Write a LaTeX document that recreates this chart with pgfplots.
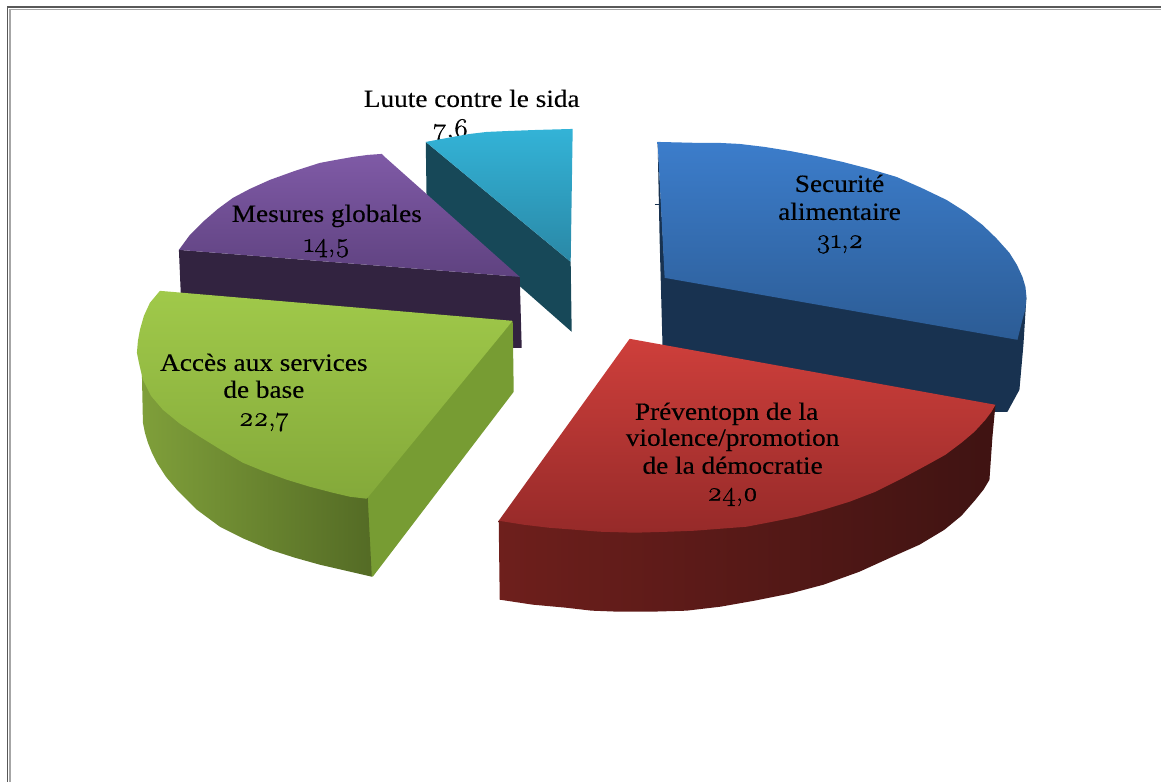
\documentclass[border=0pt]{standalone}
\usepackage{fontspec}
\usepackage{pgfplots}
\pgfplotsset{compat=1.18}
\setmainfont{Liberation Serif}[FakeStretch=1.1,FakeBold=0.25]
\newfontfamily\numf{Latin Modern Roman}[Numbers=OldStyle,FakeStretch=1.05,FakeBold=1.0]
\definecolor{tealT}{HTML}{33B3D7}\definecolor{tealB}{HTML}{2A88A6}\definecolor{tealS}{HTML}{174858}
\definecolor{purT}{HTML}{7F5AA6}\definecolor{purB}{HTML}{5F4280}\definecolor{purS}{HTML}{322340}
\definecolor{bluT}{HTML}{3C7DCB}\definecolor{bluB}{HTML}{2C5C95}\definecolor{bluS}{HTML}{183250}
\definecolor{redT}{HTML}{CE3F3B}\definecolor{redB}{HTML}{962A29}\definecolor{redL}{HTML}{6E1F1C}\definecolor{redR}{HTML}{3F1312}
\definecolor{grnT}{HTML}{A0C94A}\definecolor{grnB}{HTML}{84A93A}\definecolor{grnL}{HTML}{7F9F3A}\definecolor{grnR}{HTML}{546B25}\definecolor{grnW}{HTML}{779C33}
\newcommand{\lab}[3]{\node[anchor=base,inner sep=0pt,font=\fontsize{24.8}{24.8}\selectfont] at (axis cs:#1,#2) {#3};}
\newcommand{\nlab}[3]{\node[anchor=base,inner sep=0pt,font=\fontsize{27}{27}\numf] at (axis cs:#1,#2) {#3};}
\begin{document}
\begin{tikzpicture}
\begin{axis}[width=1162pt,height=782pt,scale only axis,hide axis,xmin=0,xmax=1162,ymin=0,ymax=782,y dir=reverse,clip=false,sharp plot]
\path (axis cs:0,0) rectangle (axis cs:1162,782);
% frame
\addplot[draw=black!65,line width=1.3pt] coordinates {(7.5,782)(7.5,7)(1162,7)};
\addplot[draw=black!35,line width=1.2pt] coordinates {(10,782)(10,9.5)(1162,9.5)};
% labels behind the slices
\lab{472}{107}{Luute contre le sida}
\nlab{451}{137}{7,6}
% teal
\addplot[draw=none,fill=tealS] coordinates {(426,142)(571,262)(572,332)(522,288)(427,212)} --cycle;
\addplot[draw=none,top color=tealT,bottom color=tealB] coordinates {(426,142)(453,137)(470,134)(487,132)(510,131)(537,130)(555,129.5)(573,129)(571,262)} --cycle;
% purple
\addplot[draw=none,fill=purS] coordinates {(179,250)(520,277)(522,348)(514,348)(182,320)} --cycle;
\addplot[draw=none,top color=purT,bottom color=purB] coordinates {(179,250)(190,235)(203,222)(218,209)(233,198)(250,189)(270,180)(295,171)(320,163)(336,160)(353,157)(368,155)(382,154)(385,157)(520,277)} --cycle;
% blue
\addplot[draw=none,fill=bluS] coordinates {(658,142)(665,270)(1018,332)(1027,297)(1024,345)(1020,390)(1008,412)(990,412)(663,350)(660,240)} --cycle;
\addplot[draw=bluS,line width=1pt] coordinates {(655,205)(659,205)};
\addplot[draw=none,top color=bluT,bottom color=bluB] coordinates {(658,142)(700,143)(720,143)(740,144)(765,147)(790,151)(816,156)(843,162)(870,169)(897,177)(922,188)(947,200)(966,212)(983,225)(997,238.5)(1010,253)(1017.5,265)(1023,277)(1026,287)(1027,297)(1026,309)(1023,320)(1018,340)(665,278)} --cycle;
% green
\addplot[draw=none,fill=grnW] coordinates {(513,321)(514,392)(373,577)(360,570)(360,499)} --cycle;
\addplot[draw=none,left color=grnL,right color=grnR] coordinates {(142,375)(143,423)(145,433)(148,443)(152,453)(157,463)(166,477)(177,490)(197,510)(220,527)(244,539)(270,550)(295,558)(320,565)(346,571)(372,577)(367,480)(243,445)(163,390)} --cycle;
\addplot[draw=none,top color=grnT,bottom color=grnB] coordinates {(160,291)(513,321)(367,499)(350,497)(333,493)(310,487)(287,480)(265,472)(243,463)(221,450)(200,437)(180,424)(163,410)(151,396)(143,380)(139,363)(137,353)(138,341)(140,330)(144,316)(150,303)(155,297)} --cycle;
% red
\addplot[draw=none,left color=redL,right color=redR] coordinates {(499,521)(500,600)(533,605)(566,608)(592,611)(618,612)(652,612)(687,611)(721,607)(755,601)(790,594)(824,585)(860,572)(893,557)(920,545)(945,530)(962,516)(976,500)(984,490)(990,480)(993,437)(996,405)(962,430)(876,480)(773,512)(669,522)(549,518)} --cycle;
\addplot[draw=none,top color=redT,bottom color=redB] coordinates {(630,339)(996,405)(992,412)(986,420)(975,432)(962,443)(946,455)(928,465)(902,479)(876,492)(850,502)(824,510)(798,517)(773,522)(747,527)(721,529)(695,531)(669,532)(635,533)(600,532)(575,530)(549,528)(524,525)(499,521)} --cycle;
% labels
\lab{327}{222}{Mesures globales}
\nlab{327}{252}{14,5}
\lab{264}{371}{Accès aux services}
\lab{264}{398}{de base}
\nlab{264}{426}{22,7}
\lab{840}{192}{Securité}
\lab{840}{220}{alimentaire}
\nlab{840}{248}{31,2}
\lab{727}{420}{Préventopn de la}
\lab{733}{446}{violence/promotion}
\lab{733}{474}{de la démocratie}
\nlab{733}{501}{24,0}
\end{axis}
\end{tikzpicture}
\end{document}
